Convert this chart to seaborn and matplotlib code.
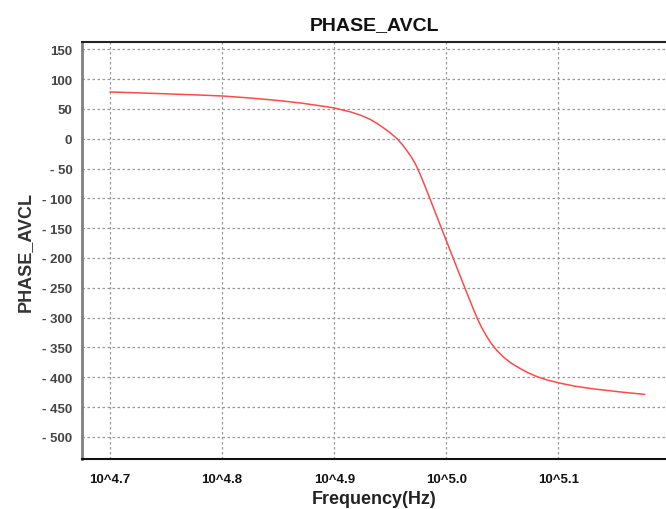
import numpy as np
import pandas as pd
import matplotlib
matplotlib.use("Agg")
import matplotlib.pyplot as plt
import seaborn as sns

# Data (log10 frequency, phase in degrees)
log_freq = [4.700, 4.725, 4.750, 4.775, 4.800, 4.825, 4.850, 4.870, 4.885,
            4.900, 4.9143, 4.924, 4.932, 4.938, 4.944, 4.950, 4.956, 4.961,
            4.965, 4.969, 4.9723, 4.976, 4.980, 4.9842, 4.990, 4.9952,
            5.000, 5.005, 5.010, 5.0146, 5.0185, 5.0215, 5.0244, 5.028,
            5.0319, 5.036, 5.040, 5.045, 5.0512, 5.058, 5.066, 5.073, 5.081,
            5.090, 5.1006, 5.115, 5.1315, 5.155, 5.177]
phase = [78.3, 76.8, 75.2, 73.5, 71.6, 68.2, 64.0, 59.8, 55.8,
         51.5, 45.0, 39.0, 32.4, 25.8, 18.0, 9.8, 0.0, -10.5,
         -20.5, -31.5, -42.0, -57.0, -75.0, -95.0, -123.0, -148.0,
         -171.0, -195.0, -219.0, -241.0, -259.5, -273.5, -287.0, -303.0,
         -318.0, -331.5, -343.0, -355.0, -366.5, -376.5, -385.5, -392.5, -399.0,
         -404.5, -409.5, -415.0, -419.5, -424.5, -428.7]

x_tick_exps = [4.7, 4.8, 4.9, 5.0, 5.1]
x_tick_labels = ["10^4.7", "10^4.8", "10^4.9", "10^5.0", "10^5.1"]
y_ticks = [150, 100, 50, 0, -50, -100, -150, -200, -250, -300, -350, -400, -450, -500]
y_tick_labels = [str(v) if v >= 0 else "- " + str(-v) for v in y_ticks]

df = pd.DataFrame({"freq": [10 ** e for e in log_freq], "phase": phase})

sns.set_theme(style="white")
plt.rcParams["font.family"] = ["Liberation Sans", "DejaVu Sans"]

fig = plt.figure(figsize=(6.66, 5.10), dpi=100)
ax = fig.add_axes([0.1231, 0.098, 0.877, 0.8176])

sns.lineplot(data=df, x="freq", y="phase", ax=ax, color="#ff4a4a", linewidth=1.1)

ax.set_xscale("log")
ax.set_xlim(10 ** 4.675, 10 ** 5.196)
ax.set_ylim(-537, 162)
ax.xaxis.set_major_locator(matplotlib.ticker.FixedLocator([10 ** e for e in x_tick_exps]))
ax.xaxis.set_minor_locator(matplotlib.ticker.NullLocator())
ax.set_xticklabels(x_tick_labels, fontsize=9.5, fontweight="bold", color="#111111")
ax.set_yticks(y_ticks)
ax.set_yticklabels(y_tick_labels, fontsize=9.5, fontweight="bold", color="#444444")
ax.tick_params(axis="both", length=0)
ax.tick_params(axis="y", pad=7)
ax.tick_params(axis="x", pad=10)

ax.grid(True, which="major", color="#999999", linestyle=(0, (2, 2)), linewidth=0.9)

ax.spines["right"].set_visible(False)
ax.spines["top"].set_color("#222222")
ax.spines["top"].set_linewidth(1.5)
ax.spines["bottom"].set_color("#111111")
ax.spines["bottom"].set_linewidth(1.5)
ax.spines["left"].set_color("#808080")
ax.spines["left"].set_linewidth(2)

ax.set_title("PHASE_AVCL", fontsize=14, fontweight="bold", color="#111111", pad=9)
ax.set_xlabel("Frequency(Hz)", fontsize=13, fontweight="bold", color="#222222", labelpad=4)
ax.set_ylabel("PHASE_AVCL", fontsize=13, fontweight="bold", color="#333333", labelpad=6)

fig.savefig("out.png", dpi=100)
